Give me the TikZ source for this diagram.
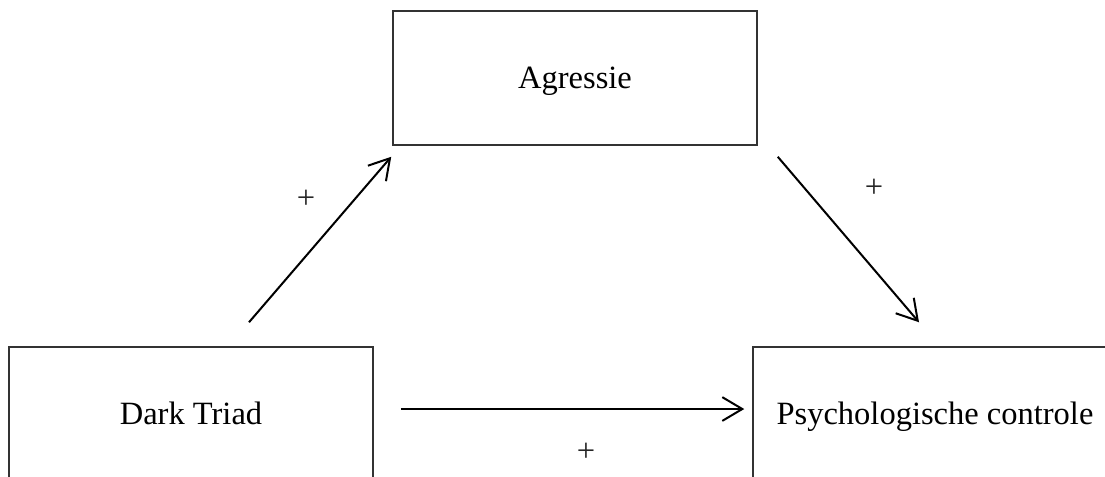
\documentclass[tikz,border=0pt]{standalone}
\usepackage{fontspec}
\setmainfont{Liberation Serif}
\usetikzlibrary{calc,arrows.meta}
\tikzset{%
  factor/.style={rectangle,minimum width=145.6pt,minimum height=53.6pt,
    text height=2.3ex,text depth=.4ex,
    draw=black!80,line width=0.6pt,font=\fontsize{13}{15}\selectfont},
  effect/.style={line width=0.8pt,-{Straight Barb[length=8pt,width=9.5pt]}},
  sign/.style={font=\fontsize{13}{15}\selectfont,text=black!85}
}
\begin{document}
\begin{tikzpicture}[x=0.4pt,y=0.4pt]
      \useasboundingbox (0,0) rectangle (1105,-476);
      \node [factor] (ag) at (575,-78)  {Agressie};
      \node [factor] (dt) at (191,-414) {Dark Triad};
      \node [factor] (pc) at (935,-414) {Psychologische controle};

      \draw [effect] ($(dt.north)+(58,24)$) -- ($(ag.south west)+(-1,-11)$);
      \draw [effect] ($(ag.south east)+(20,-11)$) -- ($(pc.north)+(-16,24)$);
      \draw [effect] ($(dt.east)+(27,5)$) -- ($(pc.west)+(-8,5)$);

      \node [sign] (s1) at (306,-199) {+};
      \node [sign] (s2) at (874,-188) {+};
      \node [sign] (s3) at (586,-452) {+};
    \end{tikzpicture}
\end{document}
